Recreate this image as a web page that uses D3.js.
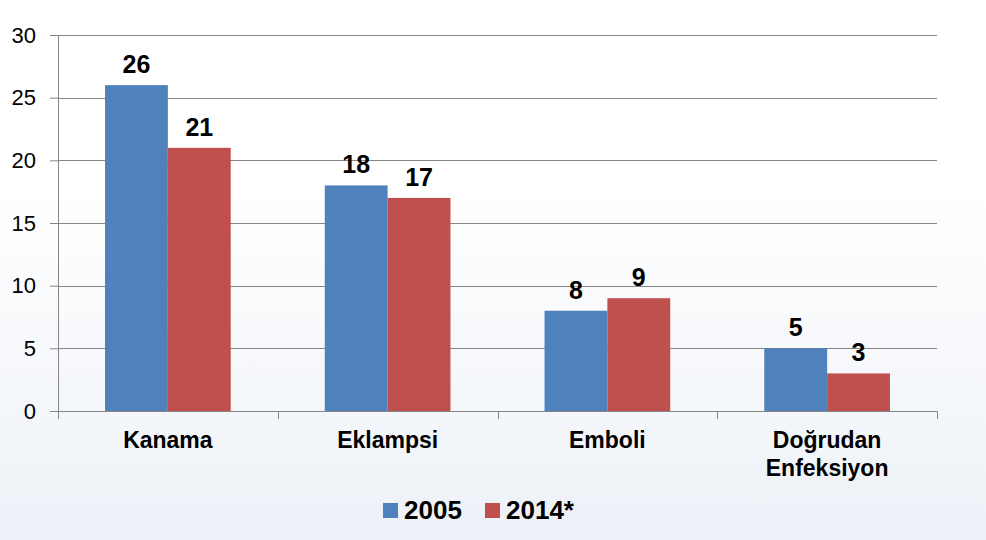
<!DOCTYPE html>
<html>
<head>
<meta charset="utf-8">
<script src="https://cdn.jsdelivr.net/npm/d3@7"></script>
<style>
  body { margin: 0; }
  svg { display: block; font-family: "Liberation Sans", Arial, sans-serif; }
</style>
</head>
<body>
<div id="chart"></div>
<script>
var width = 986;
var height = 540;

// chart data
var categories = ["Kanama", "Eklampsi", "Emboli", "Doğrudan\nEnfeksiyon"];
var seriesNames = ["2005", "2014*"];
var values2005 = [26, 18, 8, 5];
var values2014 = [21, 17, 9, 3];
var yTicks = [0, 5, 10, 15, 20, 25, 30];
var colors = ["#4f81bd", "#c0504d"];

var svg = d3.select("#chart")
    .append("svg")
    .attr("width", width)
    .attr("height", height);

// soft background gradient
var grad = svg.append("defs").append("linearGradient")
    .attr("id", "bg")
    .attr("x1", 0).attr("y1", 0).attr("x2", 0).attr("y2", 1);
grad.append("stop").attr("offset", "0.35").attr("stop-color", "#ffffff");
grad.append("stop").attr("offset", "1").attr("stop-color", "#edf1f7");
svg.append("rect").attr("width", width).attr("height", height).attr("fill", "url(#bg)");

var plotLeft = 58, plotRight = 937, plotTop = 35, plotBottom = 411;

var yScale = d3.scaleLinear().domain([0, 30]).range([plotBottom, plotTop]);
var x0 = d3.scaleBand().domain(categories).range([plotLeft, plotRight])
    .paddingInner(0.428).paddingOuter(0.214);
var x1 = d3.scaleBand().domain(seriesNames).range([0, x0.bandwidth()]);

// y axis with outward ticks
var yAxis = d3.axisLeft(yScale).tickValues(yTicks).tickSize(8).tickPadding(14);
var yG = svg.append("g")
    .attr("transform", "translate(" + plotLeft + ",0)")
    .call(yAxis);
yG.select(".domain").attr("stroke", "#868686").attr("d", "M0.5," + plotTop + "V" + plotBottom);
yG.selectAll(".tick line").attr("stroke", "#868686");
yG.selectAll(".tick text")
    .attr("font-size", 22)
    .attr("fill", "#000")
    .attr("font-family", "Liberation Sans, Arial, sans-serif");

// gridlines
svg.append("g").selectAll("line")
    .data(yTicks.filter(function(t) { return t > 0; }))
    .enter()
    .append("line")
    .attr("x1", plotLeft)
    .attr("x2", plotRight)
    .attr("y1", function(d) { return Math.round(yScale(d)) + 0.5; })
    .attr("y2", function(d) { return Math.round(yScale(d)) + 0.5; })
    .attr("stroke", "#868686");

// bars
var rows = categories.map(function(c, i) {
    return { cat: c, vals: [values2005[i], values2014[i]] };
});

var groups = svg.append("g").selectAll("g")
    .data(rows)
    .enter()
    .append("g")
    .attr("transform", function(d) { return "translate(" + x0(d.cat) + ",0)"; });

groups.selectAll("rect")
    .data(function(d) { return d.vals.map(function(v, j) { return { name: seriesNames[j], v: v, j: j }; }); })
    .enter()
    .append("rect")
    .attr("x", function(d) { return x1(d.name); })
    .attr("width", x1.bandwidth())
    .attr("y", function(d) { return yScale(d.v); })
    .attr("height", function(d) { return plotBottom - yScale(d.v); })
    .attr("fill", function(d) { return colors[d.j]; });

groups.selectAll("text")
    .data(function(d) { return d.vals.map(function(v, j) { return { name: seriesNames[j], v: v }; }); })
    .enter()
    .append("text")
    .attr("x", function(d) { return x1(d.name) + x1.bandwidth() / 2; })
    .attr("y", function(d) { return yScale(d.v) - 12; })
    .attr("text-anchor", "middle")
    .attr("font-size", 25)
    .attr("font-weight", "bold")
    .text(function(d) { return d.v; });

// x axis
var xAxis = d3.axisBottom(x0).tickValues([]).tickSizeOuter(0);
var xG = svg.append("g")
    .attr("transform", "translate(0," + plotBottom + ")")
    .call(xAxis);
xG.select(".domain").attr("stroke", "#868686").attr("d", "M" + plotLeft + ",0.5H" + plotRight);

var step = x0.step();
xG.selectAll(".sep")
    .data(d3.range(categories.length + 1))
    .enter()
    .append("line")
    .attr("x1", function(i) { return Math.round(plotLeft + i * step) + 0.5; })
    .attr("x2", function(i) { return Math.round(plotLeft + i * step) + 0.5; })
    .attr("y1", 0)
    .attr("y2", 8)
    .attr("stroke", "#868686");

var catLabels = svg.append("g").selectAll("text")
    .data(categories)
    .enter()
    .append("text")
    .attr("x", function(d) { return x0(d) + x0.bandwidth() / 2; })
    .attr("y", 448)
    .attr("text-anchor", "middle")
    .attr("font-size", 23)
    .attr("font-weight", "bold");

catLabels.selectAll("tspan")
    .data(function(d) { return d.split("\n"); })
    .enter()
    .append("tspan")
    .attr("x", function() { return d3.select(this.parentNode).attr("x"); })
    .attr("dy", function(d, i) { return i === 0 ? 0 : 28; })
    .text(function(d) { return d; });

// legend
var legendX = [383, 485];
var legend = svg.append("g").selectAll("g")
    .data(seriesNames)
    .enter()
    .append("g")
    .attr("transform", function(d, i) { return "translate(" + legendX[i] + ",503)"; });
legend.append("rect")
    .attr("width", 15)
    .attr("height", 15)
    .attr("fill", function(d, i) { return colors[i]; });
legend.append("text")
    .attr("x", 21)
    .attr("y", 16)
    .attr("font-size", 26)
    .attr("font-weight", "bold")
    .text(function(d) { return d; });
</script>
</body>
</html>
